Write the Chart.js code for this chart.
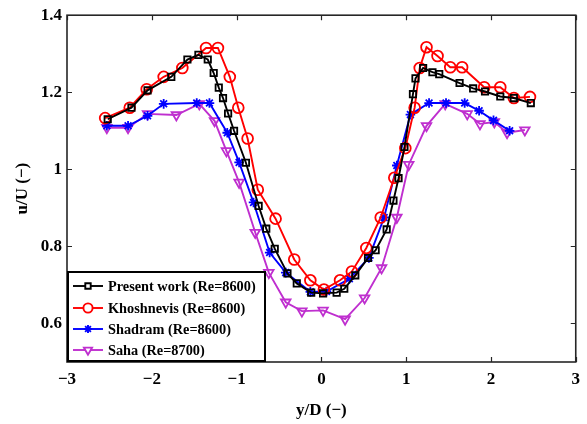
<!DOCTYPE html>
<html>
<head>
<meta charset="utf-8">
<script src="https://cdn.jsdelivr.net/npm/chart.js@4.4.0/dist/chart.umd.min.js"></script>
<style>
  html, body { margin: 0; padding: 0; background: #fff; }
  #wrap { width: 587px; height: 424px; }
</style>
</head>
<body>
<div id="wrap"><canvas id="c"></canvas></div>
<script>
// values, [y/D, u/U]
const presentWork = [[-2.52,1.13],[-2.24,1.16],[-2.05,1.205],[-1.77,1.24],[-1.58,1.285],[-1.45,1.297],[-1.34,1.285],[-1.27,1.25],[-1.21,1.212],[-1.16,1.185],[-1.10,1.145],[-1.03,1.10],[-0.89,1.017],[-0.74,0.905],[-0.65,0.846],[-0.55,0.794],[-0.40,0.73],[-0.29,0.704],[-0.12,0.68],[0.02,0.678],[0.18,0.68],[0.27,0.69],[0.40,0.725],[0.55,0.77],[0.64,0.79],[0.77,0.844],[0.85,0.919],[0.91,0.977],[0.98,1.058],[1.08,1.195],[1.11,1.236],[1.20,1.263],[1.31,1.252],[1.39,1.247],[1.63,1.224],[1.79,1.21],[1.93,1.202],[2.11,1.189],[2.27,1.185],[2.47,1.172]];
const khoshnevis = [[-2.55,1.133],[-2.26,1.16],[-2.06,1.208],[-1.86,1.24],[-1.64,1.263],[-1.36,1.315],[-1.22,1.315],[-1.08,1.24],[-0.98,1.16],[-0.87,1.08],[-0.75,0.947],[-0.54,0.872],[-0.32,0.766],[-0.13,0.712],[0.03,0.688],[0.22,0.712],[0.36,0.735],[0.53,0.796],[0.70,0.875],[0.86,0.978],[0.99,1.055],[1.10,1.16],[1.16,1.263],[1.24,1.317],[1.37,1.294],[1.52,1.265],[1.66,1.265],[1.92,1.213],[2.11,1.213],[2.27,1.185],[2.46,1.188]];
const shadram = [[-2.53,1.113],[-2.28,1.113],[-2.05,1.139],[-1.86,1.17],[-1.47,1.172],[-1.32,1.172],[-1.11,1.095],[-0.97,1.018],[-0.80,0.914],[-0.61,0.784],[-0.42,0.732],[-0.13,0.682],[0.06,0.683],[0.33,0.716],[0.56,0.77],[0.74,0.875],[0.89,1.01],[1.05,1.142],[1.27,1.172],[1.47,1.172],[1.69,1.172],[1.86,1.152],[2.03,1.127],[2.22,1.10]];
const saha = [[-2.53,1.108],[-2.28,1.108],[-2.05,1.144],[-1.71,1.141],[-1.44,1.17],[-1.26,1.126],[-1.12,1.048],[-0.97,0.966],[-0.78,0.836],[-0.62,0.732],[-0.42,0.655],[-0.23,0.632],[0.02,0.634],[0.28,0.611],[0.51,0.666],[0.71,0.744],[0.89,0.875],[1.03,1.012],[1.24,1.113],[1.46,1.17],[1.72,1.144],[1.87,1.118],[2.04,1.123],[2.19,1.095],[2.40,1.102]];

const seriesNames = ['Present work (Re=8600)', 'Khoshnevis (Re=8600)', 'Shadram (Re=8600)', 'Saha (Re=8700)'];
const xTicks = [-3, -2, -1, 0, 1, 2, 3];
const yTicks = [0.6, 0.8, 1, 1.2, 1.4];

const FONT = "'Liberation Serif', 'DejaVu Serif', serif";
const MAGENTA = '#bf2fcf';

function toPoints(arr) {
    return arr.map(p => ({ x: p[0], y: p[1] }));
}

function makeSet(label, arr, color, style, radius, rotation) {
    return {
        label: label,
        data: toPoints(arr),
        showLine: true,
        borderColor: color,
        backgroundColor: 'rgba(0,0,0,0)',
        borderWidth: 1.9,
        pointStyle: style,
        pointRadius: radius,
        pointRotation: rotation || 0,
        pointBorderColor: color,
        pointBackgroundColor: 'rgba(0,0,0,0)',
        pointBorderWidth: 1.8,
        tension: 0
    };
}

const datasets = [
    makeSet(seriesNames[0], presentWork, '#000000', 'rect', 4.5),
    makeSet(seriesNames[1], khoshnevis, '#ff0000', 'circle', 5.4),
    makeSet(seriesNames[2], shadram, '#0000ff', 'star', 4.8),
    makeSet(seriesNames[3], saha, MAGENTA, 'triangle', 5.5, 180)
];

// inward ticks on all four sides, box frame and the legend box
const framePlugin = {
    id: 'frame',
    afterDraw(chart) {
        const ctx = chart.ctx;
        const a = chart.chartArea;
        const xs = chart.scales.x, ys = chart.scales.y;
        ctx.save();
        ctx.strokeStyle = '#262626';
        ctx.lineWidth = 1.2;
        const tl = 5;
        ctx.beginPath();
        xTicks.forEach(v => {
            const px = Math.round(xs.getPixelForValue(v)) + 0.5;
            ctx.moveTo(px, a.bottom); ctx.lineTo(px, a.bottom - tl);
            ctx.moveTo(px, a.top); ctx.lineTo(px, a.top + tl);
        });
        yTicks.forEach(v => {
            const py = Math.round(ys.getPixelForValue(v)) + 0.5;
            ctx.moveTo(a.left, py); ctx.lineTo(a.left + tl, py);
            ctx.moveTo(a.right, py); ctx.lineTo(a.right - tl, py);
        });
        ctx.stroke();
        ctx.lineWidth = 1.6;
        ctx.strokeRect(a.left, a.top, a.right - a.left, a.bottom - a.top);

        // legend
        const lx = a.left, ly = 271, lw = 199, lh = a.bottom - 271;
        ctx.fillStyle = '#fff';
        ctx.fillRect(lx, ly, lw, lh);
        ctx.strokeStyle = '#000';
        ctx.lineWidth = 2;
        ctx.strokeRect(lx + 1, ly + 1, lw - 2, lh - 2);
        const rows = [286, 308, 329, 350];
        ctx.font = 'bold 14.3px ' + FONT;
        ctx.textBaseline = 'middle';
        chart.data.datasets.forEach((ds, i) => {
            const y = rows[i];
            ctx.strokeStyle = ds.borderColor;
            ctx.lineWidth = 1.9;
            ctx.beginPath();
            ctx.moveTo(73, y); ctx.lineTo(103, y);
            ctx.stroke();
            ctx.fillStyle = '#fff';
            Chart.helpers.drawPoint(ctx, {
                pointStyle: ds.pointStyle,
                rotation: ds.pointRotation,
                radius: ds.pointRadius * 0.85,
                borderWidth: 1.6
            }, 88, y);
            ctx.fillStyle = '#000';
            ctx.fillText(ds.label, 108, y + 1);
        });
        ctx.restore();
    }
};

const minus = v => String(v).replace('-', '\u2212');

new Chart(document.getElementById('c'), {
    type: 'scatter',
    data: { datasets: datasets },
    options: {
        responsive: true,
        maintainAspectRatio: false,
        animation: false,
        layout: { padding: { left: 0, right: 7, top: 14, bottom: 0 } },
        plugins: {
            legend: { display: false },
            tooltip: { enabled: false }
        },
        scales: {
            x: {
                type: 'linear',
                min: -3,
                max: 3,
                afterBuildTicks: s => { s.ticks = xTicks.map(v => ({ value: v })); },
                afterFit: s => { s.height = 62; },
                grid: { display: false, drawTicks: false },
                border: { display: false },
                ticks: {
                    color: '#000',
                    padding: 7,
                    maxRotation: 0,
                    font: { family: FONT, size: 17, weight: 'bold' },
                    callback: v => minus(v)
                },
                title: {
                    display: true,
                    text: 'y/D (\u2212)',
                    color: '#000',
                    padding: { top: 4, bottom: 3 },
                    font: { family: FONT, size: 17, weight: 'bold' }
                }
            },
            y: {
                type: 'linear',
                min: 0.5,
                max: 1.4,
                afterBuildTicks: s => { s.ticks = yTicks.map(v => ({ value: v })); },
                afterFit: s => { s.width = 67; },
                grid: { display: false, drawTicks: false },
                border: { display: false },
                ticks: {
                    color: '#000',
                    padding: 5,
                    font: { family: FONT, size: 17, weight: 'bold' },
                    callback: v => minus(v)
                },
                title: {
                    display: true,
                    text: 'u/U (\u2212)',
                    color: '#000',
                    padding: { top: 12, bottom: 0 },
                    font: { family: FONT, size: 17, weight: 'bold' }
                }
            }
        }
    },
    plugins: [framePlugin]
});
</script>
</body>
</html>
